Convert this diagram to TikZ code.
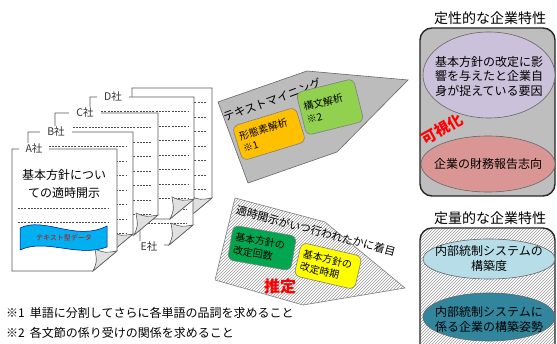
\documentclass[tikz,border=0pt]{standalone}
\usepackage{fontspec}
\setmainfont{Noto Sans CJK JP}
\usetikzlibrary{patterns}
\definecolor{tmgray}{RGB}{188,188,188}
\definecolor{pgray}{RGB}{190,190,190}
\definecolor{boxorange}{RGB}{255,192,0}
\definecolor{boxgreen}{RGB}{146,208,80}
\definecolor{boxdgreen}{RGB}{0,166,80}
\definecolor{boxyellow}{RGB}{255,255,0}
\definecolor{elpurple}{RGB}{204,193,218}
\definecolor{elred}{RGB}{217,150,148}
\definecolor{elblue}{RGB}{183,222,232}
\definecolor{elteal}{RGB}{49,133,156}
\definecolor{bannercyan}{RGB}{0,176,240}
\newcommand\docpage[5]{%
  \filldraw[pageline] (#1,#2) -- (#3,#2) -- (#3,{#4-20}) -- ({#3-24},#4) -- (#1,#4) -- cycle;
  \ifnum#5>0
    \foreach \k in {1,...,#5}{\draw[dline] ({#1+8},{#2+14.5*\k}) -- ({#3-6},{#2+14.5*\k});}
  \fi
  \filldraw[flap] ({#3-24},#4) .. controls ({#3-20},{#4-9}) .. ({#3-22},{#4-22})
     .. controls ({#3-12},{#4-18}) .. (#3,{#4-20}) -- cycle;
}
\begin{document}
\begin{tikzpicture}[x=1pt,y=-1pt,
  pageline/.style={fill=white,draw=black!65,line width=0.6pt},
  dline/.style={draw=black!70,line width=0.5pt,dash pattern=on 2pt off 1.2pt},
  flap/.style={fill=black!12,draw=black!65,line width=0.6pt},
  plabel/.style={fill=white,inner xsep=7pt,inner ysep=1pt,font=\fontsize{10.5}{12}\selectfont,text=black!80},
  rbox/.style={rounded corners=6pt,draw=black!50,line width=0.6pt,align=left,inner sep=4pt,font=\fontsize{10}{13}\selectfont},
  ttl/.style={font=\fontsize{14}{16}\selectfont},
  eltext/.style={align=center,font=\fontsize{12}{14.5}\selectfont},
  redbold/.style={text=red,font=\bfseries\fontsize{15}{16}\selectfont}]
\useasboundingbox (0,0) rectangle (557,344);
\clip (0,0) rectangle (557,344);
\fill[white] (0,0) rectangle (557,344);

% ---- stack of documents (back to front)
\docpage{132}{88}{212}{218}{7}
\docpage{140}{122}{193}{245}{7}
\node[plabel] (lblE) at (149,247) {E社};
\docpage{90}{97}{194}{219}{7}
\node[plabel] (lblD) at (113,97) {D社};
\docpage{55}{113}{158}{235}{7}
\node[plabel] (lblC) at (85,113) {C社};
\docpage{28}{132}{133}{254}{7}
\node[plabel] (lblB) at (56,132) {B社};
\docpage{12}{149}{117}{271}{0}
\node[plabel] (lblA) at (34,149) {A社};
\node[align=center,font=\fontsize{12}{18}\selectfont] (doctitle) at (64,184) {基本方針につい\\ての適時開示};
\draw[dline] (18,208) -- (108,208);
\draw[dline] (18,222) -- (108,222);
\filldraw[fill=bannercyan,draw=blue!50!black,line width=0.5pt]
  (20,228) .. controls (45,216) and (75,242) .. (107,226) -- (107,247)
  .. controls (78,258) and (46,238) .. (20,250) -- cycle;
\node[text=red!85!black,font=\fontsize{7}{8}\selectfont] (bannertext) at (64,238) {テキスト型データ};

% ---- text mining arrow
\filldraw[fill=tmgray,draw=black!60,line width=0.6pt]
  (218,102) -- (307,71) -- (408,80) -- (337,152) -- (248,183) -- cycle;
\node[rotate=20,font=\fontsize{11.5}{12}\selectfont] (tm) at (272,100) {テキストマイニング};
\node[rbox,fill=boxorange,text width=58pt,minimum height=36pt,rotate=17] (keitai) at (269,134) {形態素解析\\※1};
\node[rbox,fill=boxgreen,text width=51pt,minimum height=44pt,rotate=14] (koubun) at (330,107) {構文解析\\※2};

% ---- timing arrow (hatched)
\fill[white] (235,198) -- (325,222) -- (405,288) -- (303,305) -- (215,280) -- cycle;
\path[pattern=north east lines,pattern color=black!40] (235,198) -- (325,222) -- (405,288) -- (303,305) -- (215,280) -- cycle;
\draw[black!50,line width=0.6pt] (235,198) -- (325,222) -- (405,288) -- (303,305) -- (215,280) -- cycle;
\node[rotate=-15,inner sep=0.5pt,font=\fontsize{11}{12}\selectfont] (focus) at (316,231) {適時開示がいつ行われたかに着目};
\node[rbox,fill=boxdgreen,text width=56pt,minimum height=35pt,rotate=-10] (kaisu) at (262,248) {基本方針の\\改定回数};
\node[rbox,fill=boxyellow,text width=54pt,minimum height=34pt,rotate=-13] (jiki) at (328,266) {基本方針の\\改定時期};
\node[redbold,font=\bfseries\fontsize{16}{17}\selectfont] (suitei) at (280,286) {推定};

% ---- qualitative panel
\node[ttl] (ttl1) at (490,18) {定性的な企業特性};
\filldraw[fill=pgray,draw=black!85,line width=1.4pt,rounded corners=12pt] (420,28) rectangle (555,196);
\filldraw[fill=elpurple,draw=black!60,line width=0.6pt] (489,75) ellipse [x radius=66pt,y radius=43pt];
\node[eltext] (q1) at (489,76) {基本方針の改定に影\\響を与えたと企業自\\身が捉えている要因};
\filldraw[fill=elred,draw=black!60,line width=0.6pt] (488,164) ellipse [x radius=67pt,y radius=28pt];
\node[eltext] (q2) at (488,164) {企業の財務報告志向};
\node[redbold,rotate=30,inner sep=0pt] (kashika) at (442,129) {可視化};

% ---- quantitative panel
\node[ttl] (ttl2) at (490,218) {定量的な企業特性};
\fill[white,rounded corners=12pt] (420,228) rectangle (555,380);
\path[pattern=north east lines,pattern color=black!40,rounded corners=12pt] (420,228) rectangle (555,380);
\draw[draw=black!85,line width=1.4pt,rounded corners=12pt] (420,228) rectangle (555,380);
\filldraw[fill=elblue,draw=black!60,line width=0.6pt] (489,259) ellipse [x radius=66pt,y radius=20pt];
\node[eltext,font=\fontsize{12}{15}\selectfont] (n1) at (489,258) {内部統制システムの\\構築度};
\filldraw[fill=elteal,draw=black!60,line width=0.6pt] (489,317) ellipse [x radius=66pt,y radius=24pt];
\node[eltext,font=\fontsize{12}{15}\selectfont] (n2) at (489,319) {内部統制システムに\\係る企業の構築姿勢};

% ---- footnotes
\node[anchor=west,font=\fontsize{12}{14}\selectfont,inner sep=0pt] (fn1) at (6,313) {※1\hspace{5pt}単語に分割してさらに各単語の品詞を求めること};
\node[anchor=west,font=\fontsize{12}{14}\selectfont,inner sep=0pt] (fn2) at (6,333) {※2\hspace{5pt}各文節の係り受けの関係を求めること};
\end{tikzpicture}
\end{document}
